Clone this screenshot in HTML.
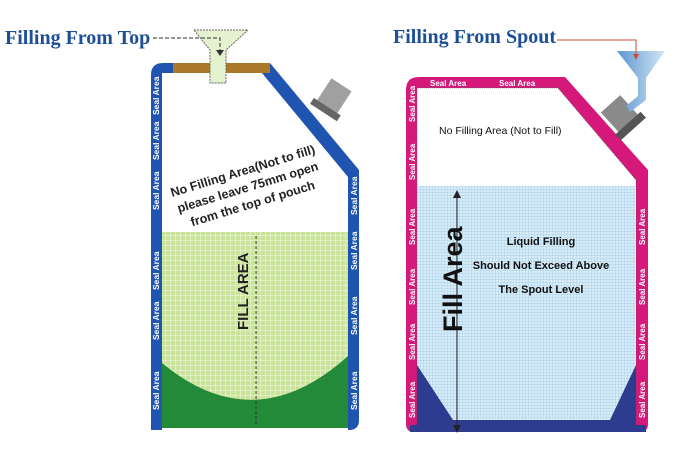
<!DOCTYPE html>
<html><head><meta charset="utf-8"><style>
body{margin:0;background:#fff;}
svg{display:block}
</style></head><body>
<svg width="700" height="474" viewBox="0 0 700 474" xmlns="http://www.w3.org/2000/svg" font-family="Liberation Sans, sans-serif">
<defs>
<pattern id="gg" width="5" height="5" patternUnits="userSpaceOnUse"><rect width="5" height="5" fill="#c9e39a"/><path d="M0 0H5M0 0V5" stroke="#f2f8e4" stroke-width="1"/></pattern>
<pattern id="bg" width="3" height="3" patternUnits="userSpaceOnUse"><rect width="3" height="3" fill="#d8ecf8"/><path d="M0 0H3M0 0V3" stroke="#9cc9e6" stroke-width="0.7"/></pattern>
<linearGradient id="fun" x1="0" x2="1"><stop offset="0" stop-color="#5c97cf"/><stop offset="1" stop-color="#d3e6f5"/></linearGradient>
</defs>
<!-- titles -->
<text x="5" y="44" font-family="Liberation Serif, serif" font-weight="bold" font-size="20" fill="#1d4f97">Filling From Top</text>
<text x="393" y="43" font-family="Liberation Serif, serif" font-weight="bold" font-size="20" fill="#1d4f97">Filling From Spout</text>

<!-- LEFT POUCH -->
<path d="M151 430 V75 Q151 63 163 63 H270 L359 170 V420 Q359 430 349 430 Z" fill="#1f55b0"/>
<path d="M162 430 V73 H262 L348 177 V430 Z" fill="#fff"/>
<rect x="173" y="63" width="97" height="10" fill="#a9782a"/>
<rect x="162" y="232" width="186" height="196" fill="url(#gg)"/>
<path d="M162 363 Q255 440 348 356 V428 H162 Z" fill="#238a3a"/>
<line x1="256" y1="236" x2="256" y2="426" stroke="#333" stroke-width="1" stroke-dasharray="3,2"/>
<text transform="translate(248,330) rotate(-90)" font-size="15" font-weight="bold" fill="#222">FILL AREA</text>
<g font-size="8.5" font-weight="bold" fill="#fff">
<text transform="translate(159,115) rotate(-90)">Seal Area</text>
<text transform="translate(159,160) rotate(-90)">Seal Area</text>
<text transform="translate(159,210) rotate(-90)">Seal Area</text>
<text transform="translate(159,290) rotate(-90)">Seal Area</text>
<text transform="translate(159,340) rotate(-90)">Seal Area</text>
<text transform="translate(159,410) rotate(-90)">Seal Area</text>
<text transform="translate(276,67) rotate(50)">Seal Area</text>
<text transform="translate(300,96) rotate(50)">Seal Area</text>
<text transform="translate(324,125) rotate(50)">Seal Area</text>
<text transform="translate(357,215) rotate(-90)">Seal Area</text>
<text transform="translate(357,270) rotate(-90)">Seal Area</text>
<text transform="translate(357,335) rotate(-90)">Seal Area</text>
<text transform="translate(357,410) rotate(-90)">Seal Area</text>
</g>
<g transform="translate(333,96) rotate(33)"><rect x="-11" y="-14" width="24" height="28" fill="#a0a0a0"/><rect x="-15" y="12" width="32" height="7" fill="#666"/></g>
<g transform="translate(244,175) rotate(-17)" font-size="12.5" font-weight="bold" fill="#222" text-anchor="middle">
<text y="0">No Filling Area(Not to fill)</text><text y="17">please leave 75mm open</text><text y="34">from the top of pouch</text></g>
<path d="M194 30 H248 L226 50 V83 H210 V50 Z" fill="#e5f2cf" stroke="#666" stroke-dasharray="2,1"/>
<path d="M153 38 H220 V52" fill="none" stroke="#333" stroke-dasharray="4,2"/>
<path d="M216 50 L220 56 L224 50 Z" fill="#333"/>

<!-- RIGHT POUCH -->
<path d="M406 431 V90 Q406 77 419 77 H565 L648 170 V424 Q648 432 640 432 H414 Q406 432 406 424 Z" fill="#d5187a"/>
<path d="M417 425 V88 H558 L636 180 V425 Z" fill="#fff" stroke="#555" stroke-width="0.6" stroke-dasharray="1,1"/>
<rect x="417" y="186" width="219" height="239" fill="url(#bg)"/>
<path d="M417 365 L453 420 L610 420 L636 365 V432 H417 Z" fill="#2d3c8e"/>
<rect x="410" y="425" width="236" height="7" fill="#2d3c8e"/>
<line x1="457" y1="192" x2="457" y2="430" stroke="#222" stroke-width="1"/>
<path d="M453 198 L457 190 L461 198 Z M453 425 L457 433 L461 425 Z" fill="#222"/>
<text transform="translate(462,332) rotate(-90)" font-size="27" font-weight="bold" fill="#111">Fill Area</text>
<g font-size="11" font-weight="bold" fill="#111" text-anchor="middle">
<text x="541" y="245">Liquid Filling</text><text x="541" y="269">Should Not Exceed Above</text><text x="541" y="293">The Spout Level</text></g>
<text x="439" y="134" font-size="10.5" fill="#111">No Filling Area (Not to Fill)</text>
<g font-size="8" font-weight="bold" fill="#fff">
<text x="430" y="86">Seal Area</text><text x="499" y="86">Seal Area</text>
<text transform="translate(415,122) rotate(-90)">Seal Area</text>
<text transform="translate(415,180) rotate(-90)">Seal Area</text>
<text transform="translate(415,245) rotate(-90)">Seal Area</text>
<text transform="translate(415,305) rotate(-90)">Seal Area</text>
<text transform="translate(415,360) rotate(-90)">Seal Area</text>
<text transform="translate(415,418) rotate(-90)">Seal Area</text>
<text transform="translate(645,245) rotate(-90)">Seal Area</text>
<text transform="translate(645,305) rotate(-90)">Seal Area</text>
<text transform="translate(645,360) rotate(-90)">Seal Area</text>
<text transform="translate(645,418) rotate(-90)">Seal Area</text>
</g>
<g transform="translate(622,115) rotate(-42)"><rect x="-14" y="-16" width="26" height="30" fill="#8a8a8a"/><rect x="-18" y="10" width="34" height="8" fill="#555"/></g>
<path d="M617 51 H665 L646 78 V100 L630 112 L626 106 L638 96 V78 Z" fill="url(#fun)"/>
<path d="M557 40 H636 V56" fill="none" stroke="#d04a30" stroke-width="1"/>
<path d="M633 54 L636 60 L639 54 Z" fill="#d04a30"/>
</svg>
</body></html>
